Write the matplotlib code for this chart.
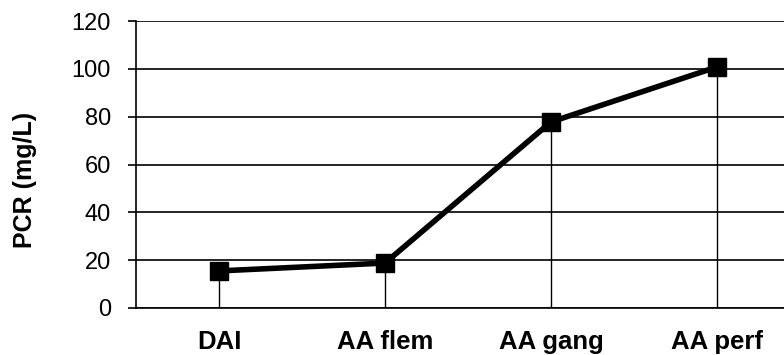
import matplotlib
matplotlib.use("Agg")
import matplotlib.pyplot as plt

categories = ["DAI", "AA flem", "AA gang", "AA perf"]
pcr_values = [15.5, 18.8, 77.8, 100.8]
y_ticks = [0, 20, 40, 60, 80, 100, 120]

plt.rcParams['font.family'] = ['Liberation Sans', 'DejaVu Sans']

fig = plt.figure(figsize=(7.84, 3.55), dpi=100)
ax = fig.add_axes([136/784, 1 - 308/355, (800 - 136)/784, (308 - 21)/355])

x = list(range(len(categories)))
ax.set_xlim(-0.5, len(categories) - 0.5)
ax.set_ylim(0, 120)
ax.set_yticks(y_ticks)
ax.set_yticklabels([str(v) for v in y_ticks], fontsize=17)
ax.set_xticks(x)
ax.set_xticklabels(categories, fontsize=18.5, fontweight='bold')
ax.tick_params(axis='x', length=0, pad=16)
ax.tick_params(axis='y', length=6, width=1.2, direction='out', pad=12)

ax.grid(axis='y', color='black', linewidth=1.2)
ax.set_axisbelow(True)
for xi, yi in zip(x, pcr_values):
    ax.vlines(xi, 0, yi, color='black', linewidth=1.0, zorder=2)

ax.plot(x, pcr_values, color='black', linewidth=4.0, marker='s', markersize=13.5,
        markerfacecolor='black', markeredgecolor='black', zorder=3)

for side in ['top', 'right']:
    ax.spines[side].set_visible(False)
ax.spines['left'].set_linewidth(1.2)
ax.spines['bottom'].set_linewidth(1.2)

ax.set_ylabel("PCR (mg/L)", fontsize=18, fontweight='bold')
ax.yaxis.set_label_coords(-0.149, 0.445)

fig.savefig("out.png", dpi=100)
